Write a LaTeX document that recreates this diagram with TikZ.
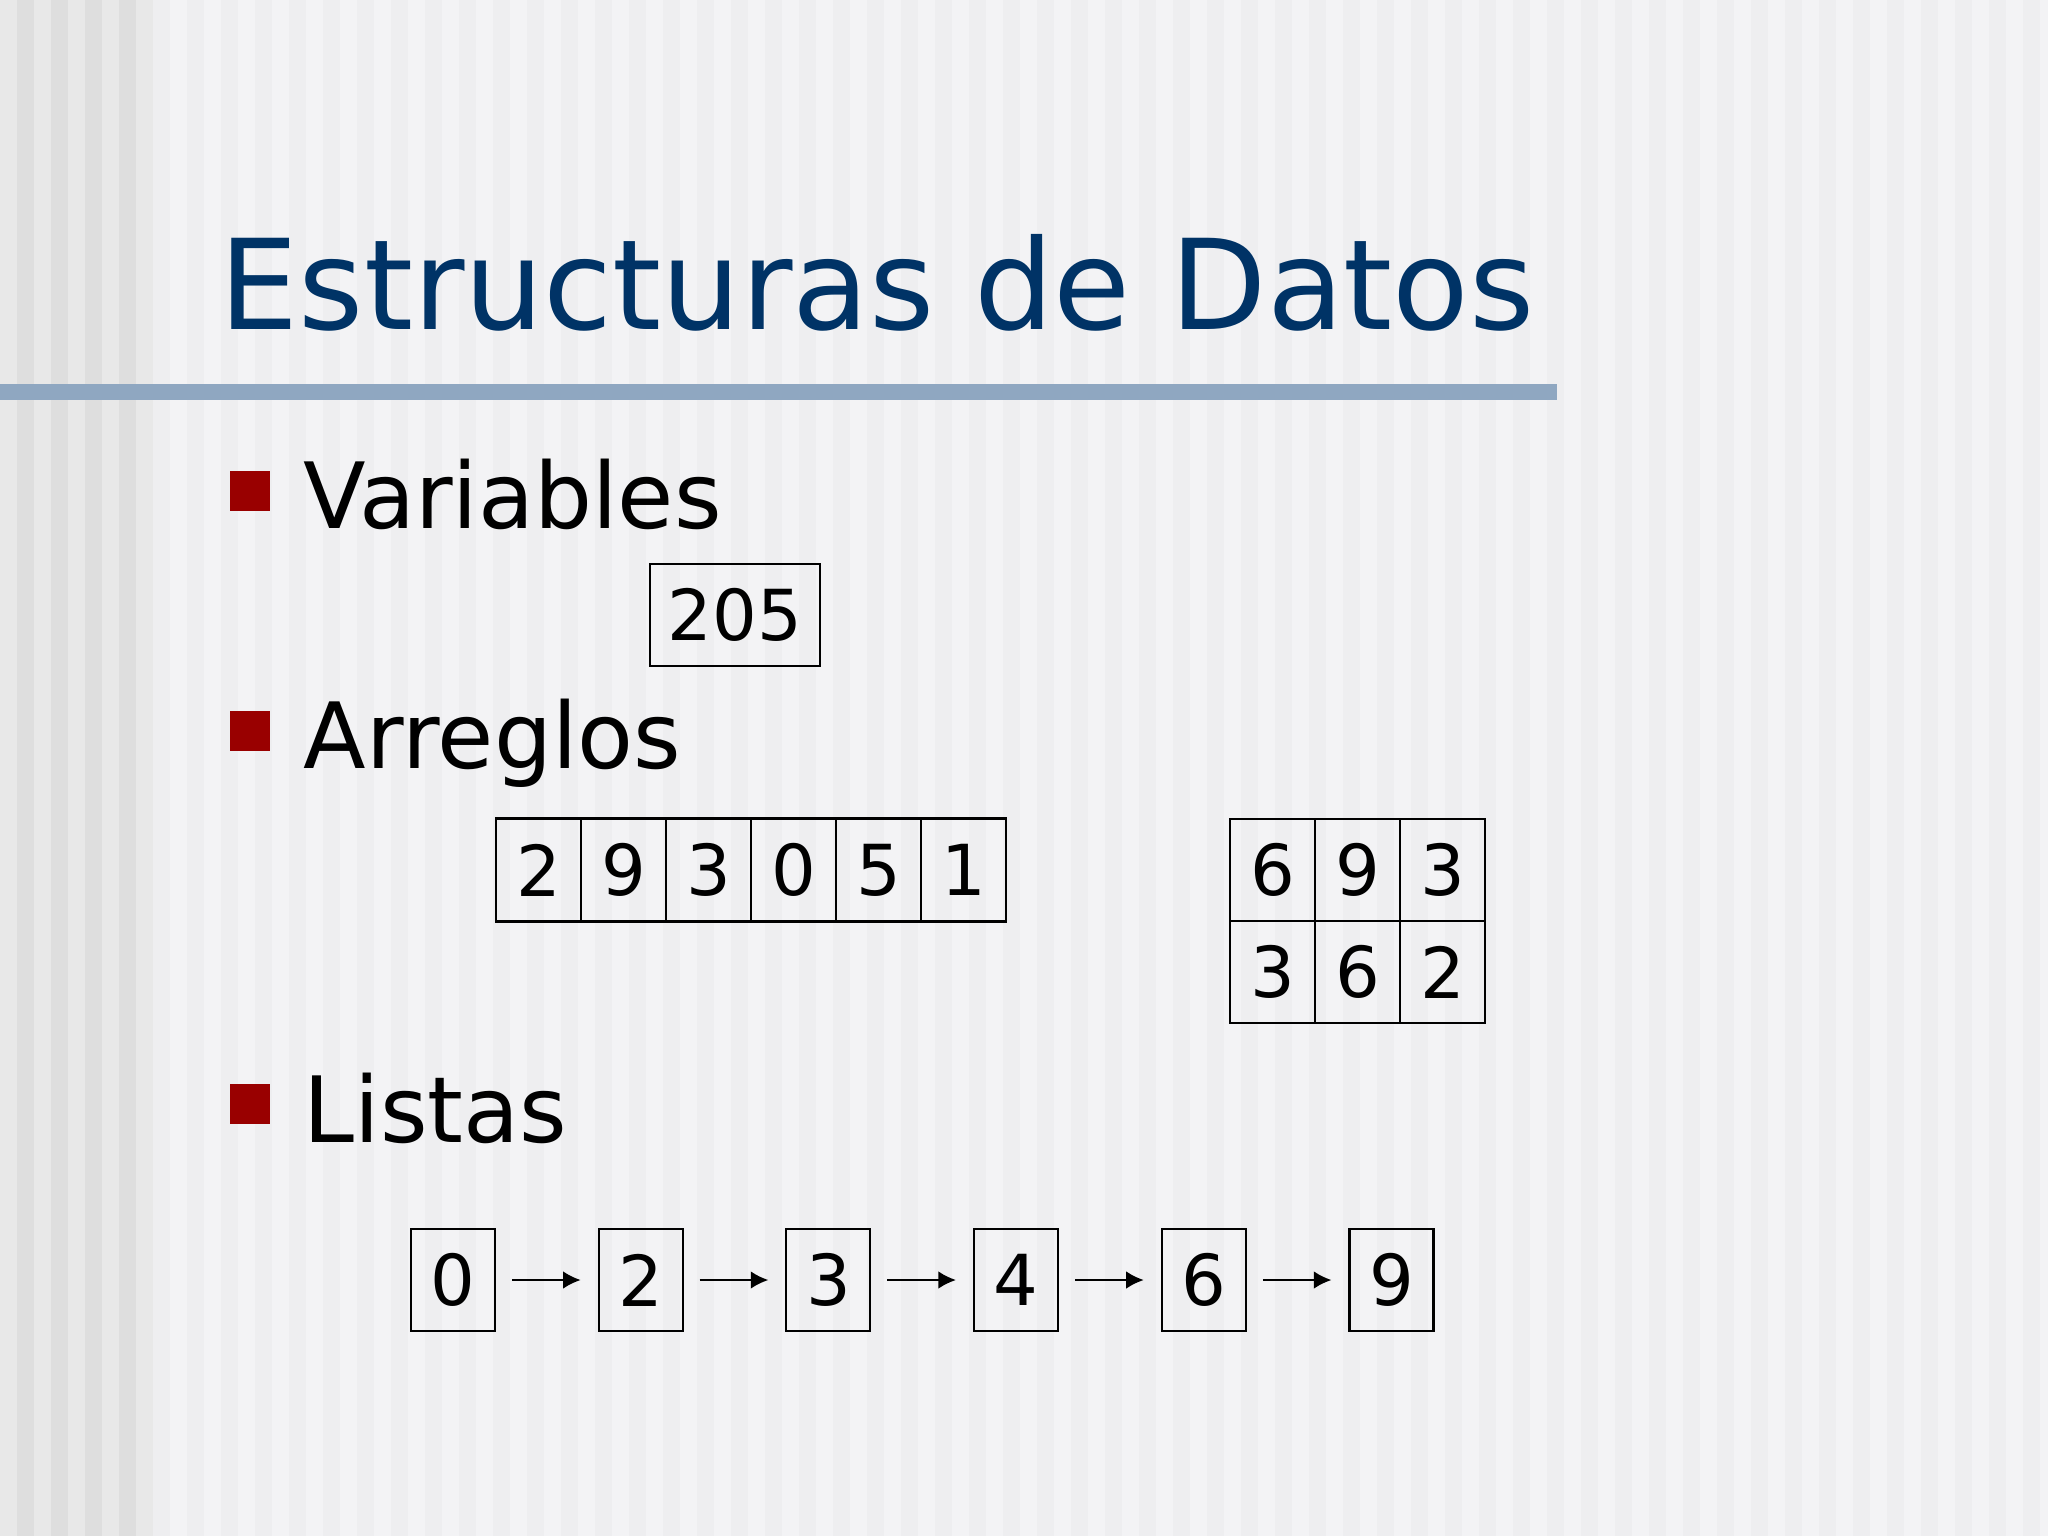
\documentclass[tikz,border=0pt]{standalone}
\usepackage{fontspec}
\setmainfont{DejaVu Sans}
\usetikzlibrary{positioning,arrows.meta}
\definecolor{titleblue}{RGB}{0,51,102}
\definecolor{barblue}{RGB}{143,167,193}
\definecolor{bulletred}{RGB}{153,0,0}
\definecolor{bgbase}{RGB}{243,243,245}
\definecolor{bgstripe}{RGB}{238,238,240}
\definecolor{bgleft}{RGB}{232,232,232}
\definecolor{bgleftdark}{RGB}{222,222,222}
\tikzset{>={Latex[length=5pt,width=5pt]}}
\tikzset{cell/.style={draw=black, line width=0.6pt, minimum width=0.85cm, minimum height=1.03cm,
  inner sep=0, outer sep=0, font=\fontsize{20}{24}\selectfont}}
\tikzset{link/.style={->, line width=0.6pt, shorten <=0.17cm, shorten >=0.18cm}}
\newcommand{\drawcell}{\node[cell]}
\newcommand{\drawbullet}{\node[fill=bulletred, minimum size=0.4cm, inner sep=0]}
\newcommand{\drawitem}{\node[anchor=base west, inner sep=0, font=\fontsize{26}{30}\selectfont]}

\begin{document}
\begin{tikzpicture}[x=0.01cm, y=-0.01cm]
	\useasboundingbox (0,0) rectangle (2048,1536);
	
	% background stripes
	\fill[bgbase] (0,0) rectangle (2048,1536);
	\foreach \x in {153,187,...,2048} \fill[bgstripe] (\x,0) rectangle ++(17,1536);
	\fill[bgleft] (0,0) rectangle (153,1536);
	\foreach \x in {17,51,...,136} \fill[bgleftdark] (\x,0) rectangle ++(17,1536);
	
	\node[anchor=base west, inner sep=0, text=titleblue, font=\fontsize{35.6}{42}\selectfont] (title) at (219,329) {Estructuras de Datos};
	\fill[barblue] (0,384) rectangle (1557,400);
	
	\drawbullet (b1) at (250,491) {};
	\drawitem (var) at (303,528) {Variables};
	\drawbullet (b2) at (250,731) {};
	\drawitem (arr) at (303,768) {Arreglos};
	\drawbullet (b3) at (250,1104) {};
	\drawitem (lst) at (303,1142) {Listas};
	
	\drawcell[minimum width=1.7cm, minimum height=1.02cm] (v) at (735,615) {205};
	
	\drawcell (a0) at (538.5,870) {2};
	\drawcell (a1) at (623.5,870) {9};
	\drawcell (a2) at (708.5,870) {3};
	\drawcell (a3) at (793.5,870) {0};
	\drawcell (a4) at (878.5,870) {5};
	\drawcell (a5) at (963.5,870) {1};
	
	\drawcell[minimum height=1.02cm] (m00) at (1272.5,870) {6};
	\drawcell[minimum height=1.02cm] (m01) at (1357.5,870) {9};
	\drawcell[minimum height=1.02cm] (m02) at (1442.5,870) {3};
	\drawcell[minimum height=1.02cm] (m10) at (1272.5,972) {3};
	\drawcell[minimum height=1.02cm] (m11) at (1357.5,972) {6};
	\drawcell[minimum height=1.02cm] (m12) at (1442.5,972) {2};
	
	\drawcell[minimum width=0.84cm, minimum height=1.02cm] (l0) at (453,1280) {0};
	\drawcell[minimum width=0.84cm, minimum height=1.02cm] (l1) at (640.7,1280) {2};
	\drawcell[minimum width=0.84cm, minimum height=1.02cm] (l2) at (828.4,1280) {3};
	\drawcell[minimum width=0.84cm, minimum height=1.02cm] (l3) at (1016,1280) {4};
	\drawcell[minimum width=0.84cm, minimum height=1.02cm] (l4) at (1203.8,1280) {6};
	\drawcell[minimum width=0.84cm, minimum height=1.02cm] (l5) at (1391.5,1280) {9};
	
	\draw[link] (l0) to (l1);
	\draw[link] (l1) to (l2);
	\draw[link] (l2) to (l3);
	\draw[link] (l3) to (l4);
	\draw[link] (l4) to (l5);
	
\end{tikzpicture}
\end{document}
